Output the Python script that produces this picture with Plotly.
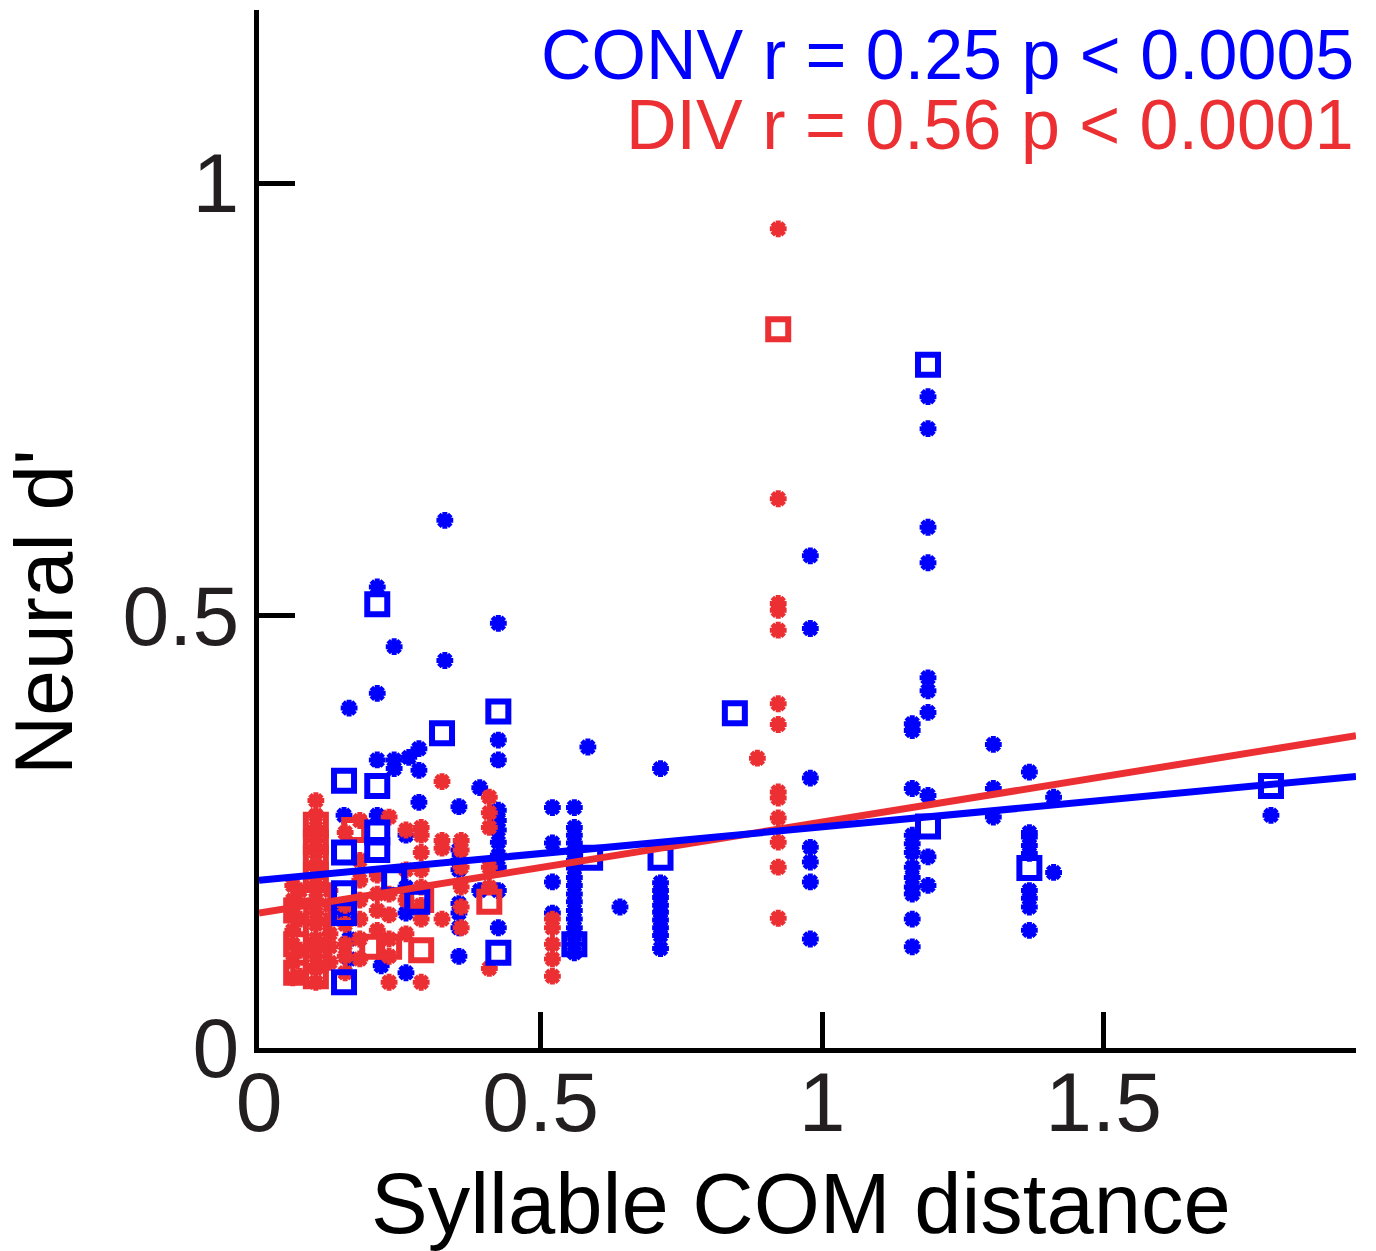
import plotly.graph_objects as go

BLUE = "#0000FF"
RED = "#EC2F33"
FONT = "Liberation Sans, Arial, sans-serif"

# CONV single points (asterisks)
conv_x = [
    0.151, 0.151,
    0.160, 0.160, 0.160,
    0.210, 0.210, 0.210, 0.210,
    0.217,
    0.240, 0.240, 0.240,
    0.261, 0.261, 0.261, 0.261,
    0.266,
    0.284, 0.284, 0.284,
    0.330, 0.330,
    0.355, 0.355, 0.355, 0.355, 0.355, 0.355, 0.355, 0.355,
    0.392, 0.392,
    0.425, 0.425, 0.425, 0.425, 0.425, 0.425, 0.425, 0.425, 0.425, 0.425, 0.425,
    0.521, 0.521, 0.521, 0.521,
    0.560, 0.560, 0.560, 0.560, 0.560, 0.560, 0.560, 0.560, 0.560, 0.560, 0.560,
    0.560, 0.560, 0.560, 0.560, 0.560, 0.560,
    0.584,
    0.641,
    0.713, 0.713, 0.713, 0.713, 0.713, 0.713, 0.713, 0.713, 0.713, 0.713,
    0.979, 0.979, 0.979, 0.979, 0.979, 0.979, 0.979,
    1.160, 1.160, 1.160, 1.160, 1.160, 1.160, 1.160, 1.160, 1.160, 1.160, 1.160, 1.160,
    1.188, 1.188, 1.188, 1.188, 1.188, 1.188, 1.188, 1.188, 1.188, 1.188,
    1.304, 1.304, 1.304,
    1.368, 1.368, 1.368, 1.368, 1.368, 1.368, 1.368, 1.368, 1.368,
    1.411, 1.411,
    1.797,
]
conv_y = [
    0.269, 0.156,
    0.393, 0.126, 0.103,
    0.533, 0.410, 0.333, 0.269,
    0.095,
    0.464, 0.333, 0.323,
    0.246, 0.186, 0.156, 0.087,
    0.336,
    0.346, 0.321, 0.284,
    0.610, 0.448,
    0.279, 0.229, 0.217, 0.206, 0.167, 0.156, 0.139, 0.106,
    0.301, 0.182,
    0.491, 0.356, 0.333, 0.275, 0.263, 0.252, 0.238, 0.223, 0.209, 0.182, 0.139,
    0.278, 0.237, 0.192, 0.156,
    0.278, 0.255, 0.246, 0.237, 0.226, 0.217, 0.208, 0.197, 0.188, 0.178, 0.169,
    0.159, 0.149, 0.139, 0.132, 0.120, 0.110,
    0.348,
    0.163,
    0.323, 0.191, 0.182, 0.174, 0.165, 0.157, 0.148, 0.139, 0.130, 0.115,
    0.569, 0.485, 0.312, 0.232, 0.215, 0.192, 0.126,
    0.375, 0.367, 0.300, 0.246, 0.236, 0.226, 0.209, 0.197, 0.186, 0.178, 0.149, 0.117,
    0.753, 0.716, 0.602, 0.561, 0.428, 0.413, 0.388, 0.292, 0.221, 0.188,
    0.351, 0.300, 0.267,
    0.319, 0.249, 0.244, 0.234, 0.225, 0.182, 0.173, 0.163, 0.136,
    0.290, 0.203,
    0.269,
]

# CONV means (squares)
conv_mean_x = [0.151, 0.210, 0.151, 0.210, 0.210, 0.151, 0.151, 0.240, 0.281, 0.151, 0.210,
               0.325, 0.425, 0.425, 0.560, 0.588, 0.713, 0.845, 1.188, 1.188, 1.368, 1.797]
conv_mean_y = [0.309, 0.303, 0.226, 0.249, 0.229, 0.179, 0.156, 0.194, 0.169, 0.076, 0.513,
               0.364, 0.389, 0.110, 0.120, 0.220, 0.220, 0.387, 0.790, 0.256, 0.208, 0.303]

# DIV single points (asterisks)
div_x = [
    0.060, 0.060, 0.060, 0.060, 0.060, 0.060, 0.060,
    0.073, 0.073, 0.073, 0.073,
    0.101, 0.101, 0.101, 0.101, 0.101, 0.101, 0.101, 0.101, 0.101, 0.101, 0.101, 0.101,
    0.101, 0.101, 0.101,
    0.126, 0.126, 0.126, 0.126, 0.126, 0.126,
    0.153, 0.153, 0.153, 0.153, 0.153, 0.153,
    0.179, 0.179, 0.179, 0.179, 0.179, 0.179, 0.179,
    0.210, 0.210, 0.210, 0.210,
    0.231, 0.231, 0.231, 0.231, 0.231, 0.231,
    0.261, 0.261, 0.261, 0.261,
    0.288, 0.288, 0.288, 0.288, 0.288, 0.288, 0.288, 0.288,
    0.325, 0.325, 0.325, 0.325,
    0.359, 0.359, 0.359, 0.359, 0.359, 0.359,
    0.409, 0.409, 0.409, 0.409, 0.409, 0.409,
    0.521, 0.521, 0.521, 0.521, 0.521,
    0.885,
    0.922, 0.922, 0.922, 0.922, 0.922, 0.922, 0.922, 0.922, 0.922, 0.922, 0.922, 0.922, 0.922,
]
div_y = [
    0.188, 0.171, 0.154, 0.136, 0.120, 0.099, 0.081,
    0.182, 0.149, 0.113, 0.083,
    0.286, 0.269, 0.255, 0.240, 0.226, 0.211, 0.197, 0.182, 0.171, 0.156, 0.143, 0.126,
    0.106, 0.092, 0.076,
    0.182, 0.165, 0.149, 0.132, 0.117, 0.099,
    0.249, 0.165, 0.143, 0.120, 0.106, 0.087,
    0.263, 0.217, 0.194, 0.171, 0.149, 0.126, 0.103,
    0.200, 0.178, 0.159, 0.136,
    0.267, 0.178, 0.154, 0.126, 0.106, 0.076,
    0.252, 0.206, 0.171, 0.132,
    0.255, 0.246, 0.226, 0.206, 0.186, 0.165, 0.149, 0.076,
    0.308, 0.240, 0.231, 0.149,
    0.240, 0.229, 0.209, 0.186, 0.163, 0.139,
    0.290, 0.272, 0.255, 0.209, 0.186, 0.092,
    0.149, 0.139, 0.120, 0.103, 0.083,
    0.335,
    0.947, 0.635, 0.514, 0.506, 0.483, 0.398, 0.374, 0.296, 0.289, 0.266, 0.238, 0.209, 0.150,
]

# DIV means (squares)
div_mean_x = [0.101, 0.101, 0.101, 0.101, 0.066, 0.066, 0.066, 0.101, 0.101, 0.101,
              0.169, 0.201, 0.231, 0.288, 0.288, 0.409, 0.922]
div_mean_y = [0.258, 0.238, 0.220, 0.200, 0.159, 0.120, 0.087, 0.133, 0.103, 0.083,
              0.252, 0.117, 0.117, 0.113, 0.171, 0.169, 0.831]

# regression lines
fit_x = [0.0, 1.948]
conv_fit_y = [0.194, 0.314]
div_fit_y = [0.156, 0.361]

conv_label = "CONV r = 0.25 p < 0.0005"
div_label = "DIV r = 0.56 p < 0.0001"


def star(color):
    return dict(symbol="asterisk-open", size=14, color=color, line=dict(width=5, color=color))


def box(color):
    return dict(symbol="square-open", size=20, color=color, line=dict(width=6, color=color))


fig = go.Figure()
fig.add_trace(go.Scatter(x=conv_x, y=conv_y, mode="markers", marker=star(BLUE), showlegend=False))
fig.add_trace(go.Scatter(x=div_x, y=div_y, mode="markers", marker=star(RED), showlegend=False))
fig.add_trace(go.Scatter(x=div_mean_x, y=div_mean_y, mode="markers", marker=box(RED), showlegend=False))
fig.add_trace(go.Scatter(x=conv_mean_x, y=conv_mean_y, mode="markers", marker=box(BLUE), showlegend=False))
fig.add_trace(go.Scatter(x=fit_x, y=div_fit_y, mode="lines",
                         line=dict(color=RED, width=7), showlegend=False))
fig.add_trace(go.Scatter(x=fit_x, y=conv_fit_y, mode="lines",
                         line=dict(color=BLUE, width=7), showlegend=False))

axis_common = dict(
    showgrid=False, zeroline=False, showline=True, linecolor="black", linewidth=5,
    ticks="inside", ticklen=36, tickwidth=5, tickcolor="black", automargin=False,
    tickfont=dict(family=FONT, size=84, color="#231F20"),
)

# page body adds an 8px offset, so the figure is sized to fit the window
fig.update_layout(
    width=1368, height=1243,
    margin=dict(l=251, r=20, t=2, b=203),
    plot_bgcolor="white", paper_bgcolor="white",
    xaxis=dict(range=[0, 1.948], tickvals=[0, 0.5, 1, 1.5], ticktext=["0", "0.5", "1", "1.5"],
               ticklabelstandoff=-23, **axis_common),
    yaxis=dict(range=[0, 1.2], tickvals=[0, 0.5, 1], ticktext=["0", "0.5", "1"],
               ticklabelstandoff=-2, **axis_common),
    annotations=[
        dict(text="Syllable COM distance", xref="paper", yref="paper", x=0.494, y=-0.150,
             xanchor="center", yanchor="middle", showarrow=False,
             font=dict(family=FONT, size=85, color="black")),
        dict(text="Neural d'", xref="paper", yref="paper", x=-0.197, y=0.42, textangle=-90,
             xanchor="center", yanchor="middle", showarrow=False,
             font=dict(family=FONT, size=82, color="black")),
        dict(text=conv_label, xref="paper", yref="paper", x=1.0, y=0.957,
             xanchor="right", yanchor="middle", showarrow=False,
             font=dict(family=FONT, size=70, color=BLUE)),
        dict(text=div_label, xref="paper", yref="paper", x=1.0, y=0.889,
             xanchor="right", yanchor="middle", showarrow=False,
             font=dict(family=FONT, size=70, color=RED)),
    ],
)

fig.write_html("out.html")
